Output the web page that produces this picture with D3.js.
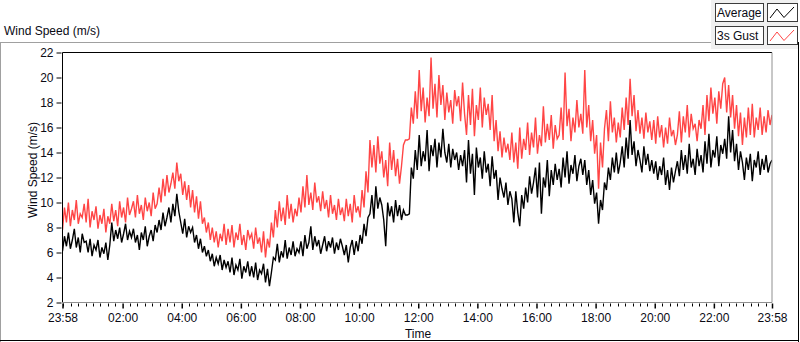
<!DOCTYPE html>
<html lang="en">
<head>
<meta charset="utf-8">
<title>Wind Speed</title>
<script src="https://cdn.jsdelivr.net/npm/d3@7/dist/d3.min.js"></script>
<style>
  body { margin: 0; background: #fff; }
  svg { display: block; font-family: "Liberation Sans", Arial, sans-serif; }
  text { fill: #0a0a14; }
</style>
</head>
<body>
<svg width="800" height="342"></svg>
<script>
// one sample every 4 minutes, 23:58 to 23:58 next day
const avgSpeed = [
  6.1,7.3,6.5,7.6,6.3,7.0,7.9,6.4,7.2,6.0,7.5,6.8,
  6.9,6.0,7.1,5.7,6.6,6.2,7.0,5.6,6.4,5.9,6.8,5.4,
  6.6,8.4,6.9,7.8,7.1,8.0,6.8,7.5,8.3,7.0,7.7,7.2,
  7.9,6.8,7.4,6.2,7.6,7.0,8.1,6.5,7.3,7.8,6.9,8.2,
  7.6,8.6,7.8,9.2,8.1,8.8,9.6,8.4,9.9,8.9,10.7,9.3,
  8.4,7.5,8.7,7.2,8.1,7.6,8.0,6.8,7.4,6.3,7.1,6.0,
  6.5,5.7,6.2,5.3,5.9,4.9,5.6,5.1,5.8,4.6,5.4,4.8,
  5.3,4.4,5.6,4.2,5.0,4.6,5.5,3.9,4.9,4.4,5.3,4.1,
  4.9,4.0,5.2,3.8,4.6,4.3,5.1,3.6,4.7,3.3,4.4,5.6,
  5.4,6.7,5.2,6.1,5.6,7.0,5.5,6.4,5.8,6.9,5.7,6.3,
  6.0,6.9,5.7,7.4,6.3,6.8,8.1,6.2,7.3,6.5,7.0,5.9,
  6.6,7.3,6.1,6.9,6.4,7.2,5.9,6.8,6.2,7.1,6.5,5.8,
  6.6,5.2,6.4,7.0,5.8,6.9,6.1,7.4,6.7,8.3,7.3,8.8,
  9.1,10.6,8.7,11.3,9.5,10.4,9.8,8.6,6.5,10.0,8.9,9.7,
  8.4,10.2,8.9,9.8,8.6,9.4,9.0,9.0,9.1,12.8,11.9,14.2,
  12.6,15.4,12.9,14.1,13.3,15.8,12.5,14.6,13.7,15.1,12.8,14.8,
  13.6,15.9,14.0,13.2,14.7,12.8,14.3,13.4,14.0,12.6,13.8,12.9,
  14.2,11.6,15.0,12.3,13.9,10.6,14.4,12.8,13.6,11.9,14.1,12.4,
  13.1,11.3,13.7,11.9,12.6,10.2,12.0,11.1,10.4,11.6,9.8,10.9,
  10.3,8.4,10.9,9.2,8.1,10.6,9.5,11.2,10.0,12.1,10.7,11.6,
  12.8,10.4,13.2,9.1,12.0,11.2,13.4,10.5,12.6,11.4,13.1,11.8,
  12.7,11.2,13.6,12.0,14.1,11.5,13.0,12.3,13.8,11.7,12.9,13.5,
  12.2,13.4,11.4,12.6,10.6,11.8,9.9,10.8,8.3,10.2,9.4,11.6,
  11.0,12.8,11.8,13.6,12.4,14.0,12.3,13.2,14.5,12.8,15.2,13.5,
  16.6,13.8,14.9,12.9,14.2,13.4,12.4,14.5,13.0,13.9,12.5,13.4,
  12.3,13.3,11.8,12.9,12.2,13.6,11.4,12.6,11.0,12.8,11.6,12.5,
  13.3,12.1,14.2,12.6,13.8,12.3,14.7,12.8,13.5,12.2,14.3,12.9,
  13.8,12.4,14.9,13.1,15.5,12.8,14.2,13.6,15.3,12.9,14.6,13.9,
  15.1,13.5,16.9,14.0,15.8,13.3,14.7,12.6,14.1,13.2,11.8,13.6,
  12.6,13.9,11.7,13.4,12.8,14.1,12.2,13.5,12.6,13.8,12.4,13.1,
  13.4
];
const gustSpeed = [
  7.8,9.6,8.4,10.0,8.1,9.4,8.6,10.2,8.3,9.1,8.8,9.9,
  8.4,10.3,8.0,9.3,8.6,9.7,7.9,9.0,8.3,9.5,7.6,8.9,
  8.3,9.9,8.5,9.4,8.1,10.1,8.8,9.6,8.4,10.4,9.0,9.5,
  10.1,8.8,10.6,9.1,9.8,8.6,10.4,9.3,10.0,8.9,10.8,9.5,
  9.9,11.2,10.0,11.9,10.5,12.2,10.8,11.5,12.4,11.1,13.2,11.7,
  12.3,10.6,11.7,10.2,11.4,9.6,11.0,9.2,10.5,8.7,10.1,8.3,
  8.8,7.6,8.4,7.0,8.0,6.8,7.7,6.4,7.5,6.9,8.3,6.6,
  7.9,6.8,8.2,6.4,7.6,7.0,8.3,6.6,7.4,6.2,7.8,7.1,
  7.5,6.3,8.0,6.7,7.2,6.0,7.7,5.6,7.1,6.4,8.4,7.2,
  9.4,8.0,10.1,8.5,9.6,8.2,10.6,8.7,9.9,8.4,9.5,8.9,
  10.4,9.2,11.3,9.6,12.2,9.8,10.8,9.4,11.6,10.0,10.5,9.3,
  10.9,9.5,10.2,8.8,10.6,9.1,9.8,8.6,10.3,9.0,9.6,8.5,
  10.3,8.9,9.9,8.4,10.6,9.2,9.7,8.8,11.0,9.6,12.5,10.8,
  15.0,12.8,14.6,12.4,15.3,13.1,14.1,12.0,13.4,11.3,14.8,12.6,
  14.2,12.1,13.5,11.5,12.9,14.6,15.0,15.0,15.1,17.6,16.3,18.9,
  16.7,20.6,17.3,19.2,16.4,18.4,16.9,21.6,17.5,19.5,16.8,20.2,
  17.8,19.4,16.6,18.8,17.2,18.2,16.3,19.0,17.7,18.5,16.5,19.6,
  17.1,15.4,18.6,16.2,19.1,15.3,17.8,16.6,19.2,16.0,18.4,17.0,
  17.9,15.8,18.6,14.9,16.6,14.1,15.7,13.6,15.2,14.0,14.7,13.4,
  15.6,13.2,14.8,12.7,16.0,13.5,15.1,14.2,16.4,13.8,15.6,14.4,
  16.8,13.9,15.4,14.5,17.7,14.8,16.3,15.0,17.0,14.3,16.2,15.1,
  15.4,17.6,15.0,20.4,16.1,17.5,14.9,16.8,15.6,18.2,16.0,17.1,
  15.5,20.6,16.0,17.8,14.9,16.6,13.9,15.4,11.1,14.8,12.8,15.9,
  17.4,14.9,18.1,15.6,16.8,14.8,16.4,15.2,17.6,15.8,18.4,16.2,
  19.9,16.9,18.6,15.7,17.4,15.5,16.8,15.1,17.2,15.6,16.5,15.0,
  16.6,14.7,16.9,15.2,16.2,14.4,16.0,14.7,16.8,15.3,15.8,14.6,
  15.4,17.3,14.8,16.9,15.6,17.8,15.2,17.1,15.9,16.3,14.9,16.6,
  15.9,17.8,15.4,18.6,16.5,19.2,17.1,18.4,16.3,18.9,17.5,19.5,
  20.0,17.2,19.4,16.8,18.6,15.9,17.8,15.3,17.2,14.6,16.8,15.2,
  17.6,15.4,17.9,15.2,16.8,15.8,17.6,15.4,16.9,15.6,17.4,16.2,
  17.0
];
const yTicks = [2, 4, 6, 8, 10, 12, 14, 16, 18, 20, 22];
const xTickLabels = ['23:58','02:00','04:00','06:00','08:00','10:00','12:00',
                     '14:00','16:00','18:00','20:00','22:00','23:58'];
const seriesNames = ['Average', '3s Gust'];
const seriesColors = ['#000000', '#ff4545'];

var svg = d3.select('svg');
var plotL = 62.5, plotR = 772, plotT = 52.5, plotB = 302.5;

var start = new Date(2024, 0, 1, 23, 58);
var end = new Date(2024, 0, 2, 23, 58);
var step = (end - start) / (avgSpeed.length - 1);
var timeOf = i => new Date(+start + i * step);

var x = d3.scaleTime().domain([start, end]).range([plotL, plotR]);
var y = d3.scaleLinear().domain([2, 22]).range([plotB, plotT]);

// outer panel frame
svg.append('line').attr('x1', 0).attr('x2', 711).attr('y1', 42.5).attr('y2', 42.5).attr('stroke', '#a0a0a0');
svg.append('line').attr('x1', 0.5).attr('x2', 0.5).attr('y1', 42).attr('y2', 342).attr('stroke', '#a0a0a0');
svg.append('line').attr('x1', 798.5).attr('x2', 798.5).attr('y1', 42).attr('y2', 342).attr('stroke', '#000');
svg.append('line').attr('x1', 0).attr('x2', 799).attr('y1', 340.5).attr('y2', 340.5).attr('stroke', '#000');

svg.append('text').attr('x', 4).attr('y', 35).style('font-size', '12px').text('Wind Speed (m/s)');

// legend
var legend = svg.append('g');
legend.append('rect').attr('x', 711).attr('y', 0).attr('width', 87).attr('height', 49).attr('fill', '#f0f0f0');
seriesNames.forEach((name, i) => {
    var ty = 3.5 + i * 23;
    legend.append('rect').attr('x', 715.5).attr('y', ty).attr('width', 48).attr('height', 18)
        .attr('fill', '#fff').attr('stroke', '#3c3c3c');
    legend.append('text').attr('x', 717).attr('y', ty + 13.5).style('font-size', '12px').text(name);
    legend.append('rect').attr('x', 767.5).attr('y', ty).attr('width', 30).attr('height', 18)
        .attr('fill', '#fff').attr('stroke', '#3c3c3c');
    legend.append('polyline')
        .attr('points', [[770, ty + 14.5], [777, ty + 5.5], [784, ty + 14], [794, ty + 3.5]].join(' '))
        .attr('fill', 'none').attr('stroke', seriesColors[i]);
});

// plot
svg.append('rect').attr('x', plotL).attr('y', plotT).attr('width', plotR - plotL).attr('height', plotB - plotT).attr('fill', '#fff');
svg.append('clipPath').attr('id', 'clip').append('rect')
    .attr('x', plotL).attr('y', plotT).attr('width', plotR - plotL).attr('height', plotB - plotT);

var line = d3.line().x((d, i) => x(timeOf(i))).y(d => y(d));
var plot = svg.append('g').attr('clip-path', 'url(#clip)');
plot.append('path').datum(gustSpeed).attr('d', line).attr('fill', 'none').attr('stroke', seriesColors[1]).attr('stroke-width', 1.4);
plot.append('path').datum(avgSpeed).attr('d', line).attr('fill', 'none').attr('stroke', seriesColors[0]).attr('stroke-width', 1.4);

// frame: dark top/left, grey bottom/right
svg.append('line').attr('x1', plotL).attr('x2', plotR).attr('y1', plotT).attr('y2', plotT).attr('stroke', '#000');
svg.append('line').attr('x1', plotL).attr('x2', plotL).attr('y1', plotT).attr('y2', plotB).attr('stroke', '#000');
svg.append('line').attr('x1', plotL).attr('x2', plotR).attr('y1', plotB).attr('y2', plotB).attr('stroke', '#909090');
svg.append('line').attr('x1', plotR).attr('x2', plotR).attr('y1', plotT).attr('y2', plotB).attr('stroke', '#909090');

// y axis
var yAxis = svg.append('g').attr('transform', `translate(${plotL - 1},0)`)
    .call(d3.axisLeft(y).tickValues(yTicks).tickSize(5).tickPadding(3));
yAxis.select('.domain').remove();
yAxis.selectAll('text').style('font-size', '12px').attr('fill', '#0a0a14');

svg.append('text').attr('transform', 'translate(37,170) rotate(-90)').attr('text-anchor', 'middle')
    .style('font-size', '12px').text('Wind Speed (m/s)');

// x axis
var xTicks = xTickLabels.map((s, i) => {
    var p = s.split(':');
    return new Date(2024, 0, i == 0 ? 1 : 2, +p[0], +p[1]);
});
var minor = d3.timeMinute.every(15).range(start, end)
    .filter(t => !xTicks.some(m => Math.abs(m - t) < 60000));
svg.append('g').selectAll('line').data(minor).join('line')
    .attr('x1', d => Math.round(x(d)) + 0.5).attr('x2', d => Math.round(x(d)) + 0.5)
    .attr('y1', plotB + 1).attr('y2', plotB + 4).attr('stroke', '#000');

var xAxis = svg.append('g').attr('transform', `translate(0,${plotB + 1})`)
    .call(d3.axisBottom(x).tickValues(xTicks).tickSize(5).tickPadding(5)
        .tickFormat((d, i) => xTickLabels[i]));
xAxis.select('.domain').remove();
xAxis.selectAll('line').attr('stroke-width', 1.5);
xAxis.selectAll('text').style('font-size', '12px').attr('fill', '#0a0a14');

svg.append('text').attr('x', 418).attr('y', 338).attr('text-anchor', 'middle')
    .style('font-size', '12px').text('Time');
</script>
</body>
</html>
